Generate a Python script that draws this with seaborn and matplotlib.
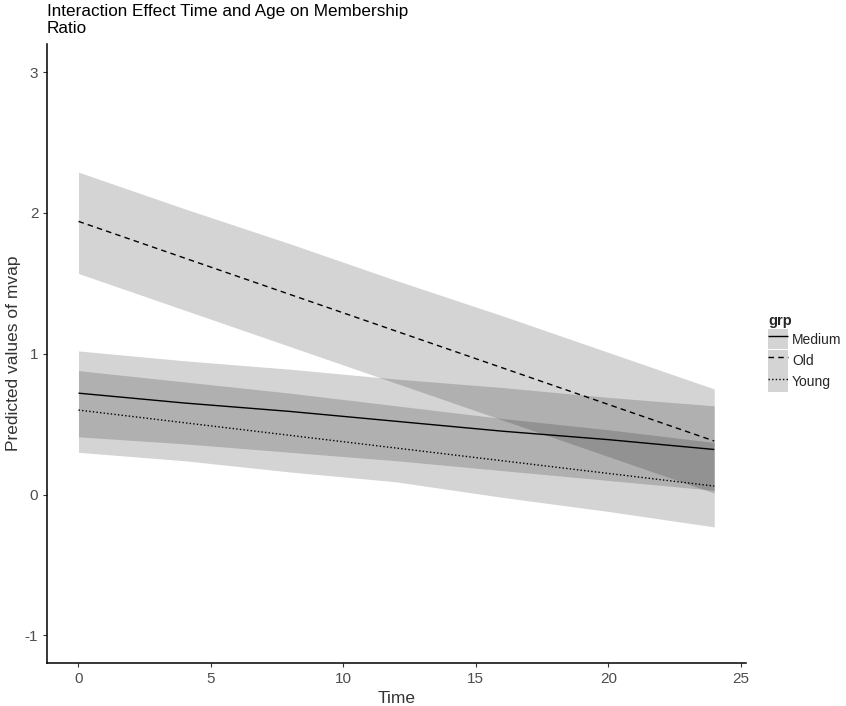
import matplotlib
matplotlib.use("Agg")
import matplotlib.pyplot as plt
import seaborn as sns
import pandas as pd
import numpy as np
from matplotlib.patches import Patch
from matplotlib.lines import Line2D

# ---- data ----
time = [0, 4, 8, 12, 16, 20, 24]
groups = ["Medium", "Old", "Young"]

medium_pred = [0.72, 0.65, 0.59, 0.52, 0.45, 0.39, 0.32]
medium_low = [0.41, 0.36, 0.30, 0.24, 0.17, 0.10, 0.03]
medium_high = [1.02, 0.95, 0.89, 0.82, 0.76, 0.69, 0.63]

old_pred = [1.94, 1.68, 1.42, 1.16, 0.90, 0.64, 0.38]
old_low = [1.57, 1.31, 1.05, 0.79, 0.53, 0.27, 0.01]
old_high = [2.29, 2.03, 1.78, 1.52, 1.27, 1.01, 0.75]

young_pred = [0.60, 0.51, 0.42, 0.33, 0.24, 0.15, 0.06]
young_low = [0.30, 0.24, 0.16, 0.09, -0.02, -0.12, -0.23]
young_high = [0.88, 0.80, 0.72, 0.63, 0.54, 0.46, 0.37]

x_ticks = [0, 5, 10, 15, 20, 25]
y_ticks = [-1, 0, 1, 2, 3]

title = "Interaction Effect Time and Age on Membership\nRatio"
x_label = "Time"
y_label = "Predicted values of mvap"
legend_title = "grp"

rows = []
for g, p, lo, hi in [("Medium", medium_pred, medium_low, medium_high),
                     ("Old", old_pred, old_low, old_high),
                     ("Young", young_pred, young_low, young_high)]:
    for t, pv, l, h in zip(time, p, lo, hi):
        rows.append({"Time": t, "pred": pv, "low": l, "high": h, "grp": g})
df = pd.DataFrame(rows)

# ---- style ----
sns.set_theme(style="white")
plt.rcParams["font.family"] = ["Liberation Sans", "DejaVu Sans"]

fig = plt.figure(figsize=(8.46, 7.06), dpi=100)
ax = fig.add_axes([0.0552, 0.0602, 0.8266, 0.8775])

styles = {"Medium": (0, ()), "Old": (0, (4, 3)), "Young": (0, (1, 1.6))}
fill_alpha = 0.17

for g in groups:
    sub = df[df["grp"] == g]
    ax.fill_between(sub["Time"], sub["low"], sub["high"], color="black",
                    alpha=fill_alpha, linewidth=0)

for g in groups:
    sub = df[df["grp"] == g]
    sns.lineplot(data=sub, x="Time", y="pred", ax=ax, color="black",
                 linewidth=1.0, linestyle=styles[g], legend=False)

ax.set_xlim(-1.2, 25.2)
ax.set_ylim(-1.2, 3.2)
ax.set_xticks(x_ticks)
ax.set_yticks(y_ticks)
ax.set_xticklabels([str(v) for v in x_ticks])
ax.set_yticklabels([str(v) for v in y_ticks])

for s in ["top", "right"]:
    ax.spines[s].set_visible(False)
for s in ["left", "bottom"]:
    ax.spines[s].set_color("black")
    ax.spines[s].set_linewidth(1.1)

ax.tick_params(axis="both", which="both", length=3, width=0.8, color="#333333",
               labelsize=11, labelcolor="#4d4d4d", pad=3,
               bottom=True, left=True)

ax.set_xlabel(x_label, fontsize=12.5, color="#333333", labelpad=4)
ax.set_ylabel(y_label, fontsize=12.5, color="#333333", labelpad=3)

fig.text(0.0552, 0.995, title, ha="left", va="top", fontsize=12.3,
         color="black", linespacing=1.2)

handles = []
for g in groups:
    patch = Patch(facecolor="black", alpha=fill_alpha, edgecolor="none")
    line = Line2D([], [], color="black", linewidth=1.0, linestyle=styles[g])
    handles.append((patch, line))

leg = fig.legend(handles, groups, title=legend_title,
                 loc="center left", bbox_to_anchor=(0.9, 0.500),
                 frameon=False, fontsize=10, title_fontsize=10.5,
                 handlelength=1.45, handleheight=1.9, labelspacing=0.05,
                 handletextpad=0.25, borderpad=0, alignment="left")
leg.get_title().set_fontweight("bold")

fig.savefig("out.png", dpi=100)
